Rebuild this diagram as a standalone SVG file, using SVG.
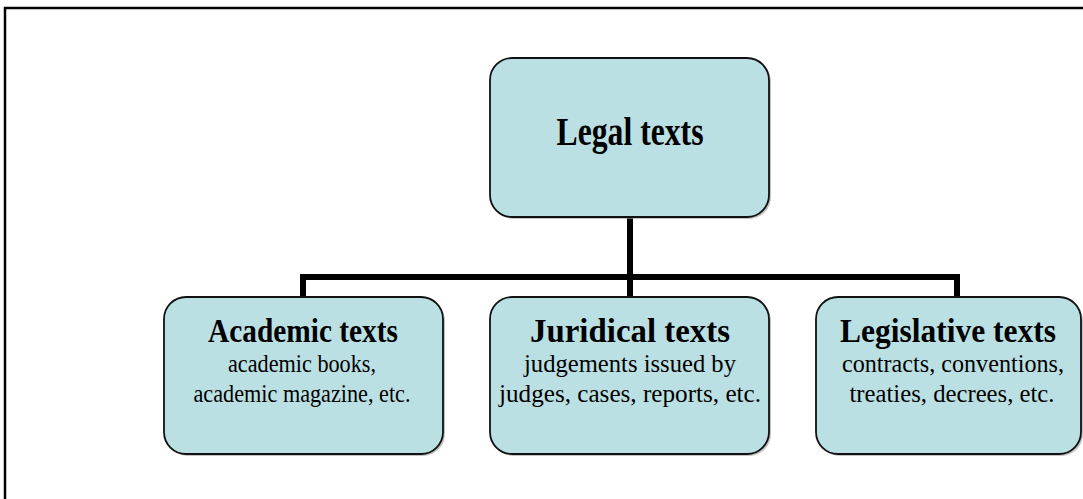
<svg xmlns="http://www.w3.org/2000/svg" width="1083" height="499" viewBox="0 0 1083 499">
<style>
.box{fill:#bae0e3;stroke:#111;stroke-width:1.8}
.sh{fill:#9a9a9a;opacity:0.6}
.t{font-family:"Liberation Serif","Times New Roman",serif;fill:#000;text-anchor:middle}
.b{font-weight:bold;font-size:34px}
.s{font-size:25px}
.conn{fill:none;stroke:#000;stroke-width:6;stroke-linejoin:miter}
</style>
<rect x="0" y="0" width="1083" height="499" fill="#fff"/>
<rect x="5" y="8" width="1090" height="500" fill="none" stroke="#000" stroke-width="2.5"/>
<g id="connectors">
<path class="conn" d="M630 217 V277 M303 297 V277 H957 V297 M630 277 V297"/>
</g>
<g id="legal">
<rect class="sh" x="492" y="60" width="279" height="159" rx="22"/>
<rect class="box" x="490" y="58" width="279" height="159" rx="22"/>
<text class="t" x="630" y="145" font-size="40" font-weight="bold" textLength="147" lengthAdjust="spacingAndGlyphs">Legal texts</text>
</g>
<g id="academic">
<rect class="sh" x="166" y="299" width="279" height="157" rx="22"/>
<rect class="box" x="164" y="297" width="279" height="157" rx="22"/>
<text class="t b" x="303" y="342" textLength="190" lengthAdjust="spacingAndGlyphs">Academic texts</text>
<text class="t s" x="302" y="372" textLength="148" lengthAdjust="spacingAndGlyphs">academic books,</text>
<text class="t s" x="302" y="402" textLength="217" lengthAdjust="spacingAndGlyphs">academic magazine, etc.</text>
</g>
<g id="juridical">
<rect class="sh" x="492" y="299" width="279" height="157" rx="22"/>
<rect class="box" x="490" y="297" width="279" height="157" rx="22"/>
<text class="t b" x="630" y="342" textLength="200" lengthAdjust="spacingAndGlyphs">Juridical texts</text>
<text class="t s" x="630" y="372" textLength="212" lengthAdjust="spacingAndGlyphs">judgements issued by</text>
<text class="t s" x="630" y="402" textLength="262" lengthAdjust="spacingAndGlyphs">judges, cases, reports, etc.</text>
</g>
<g id="legislative">
<rect class="sh" x="818" y="299" width="265" height="157" rx="22"/>
<rect class="box" x="816" y="297" width="265" height="157" rx="22"/>
<text class="t b" x="948" y="342" textLength="216" lengthAdjust="spacingAndGlyphs">Legislative texts</text>
<text class="t s" x="953" y="372" textLength="222" lengthAdjust="spacingAndGlyphs">contracts, conventions,</text>
<text class="t s" x="952" y="402" textLength="205" lengthAdjust="spacingAndGlyphs">treaties, decrees, etc.</text>
</g>
</svg>
